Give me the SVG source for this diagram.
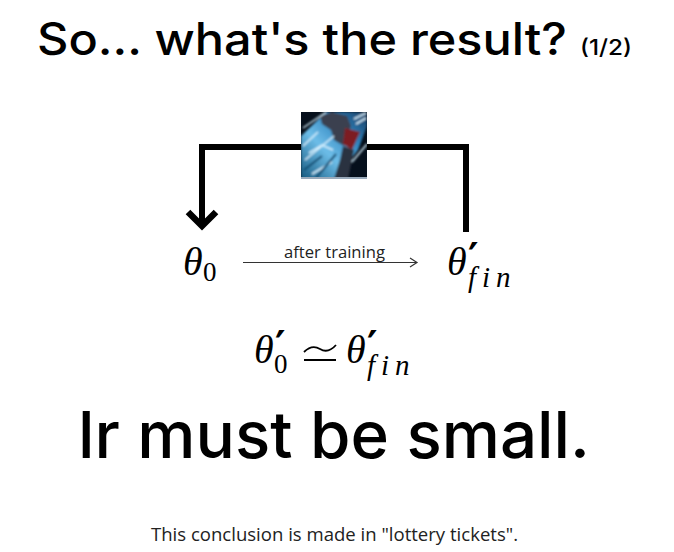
<svg xmlns="http://www.w3.org/2000/svg" width="674" height="552" viewBox="0 0 674 552">
<style>
.h{font-family:Inter,"Open Sans",sans-serif;fill:#000;font-weight:500}
.b{font-family:"Open Sans",sans-serif;fill:#222}
.m{font-family:"Liberation Serif",serif;font-style:italic;fill:#000}
.s{font-size:29px;letter-spacing:6px}
.t{font-size:40px}
.n{font-family:"Liberation Serif",serif;fill:#000;font-size:27px}
.p{font-family:"DejaVu Sans",sans-serif;fill:#000;font-size:40px;font-weight:700}
.c{fill:none;stroke:#000;stroke-width:6}
</style>
<defs>
<linearGradient id="g" x1="0" y1="1" x2="1" y2="0"><stop offset="0" stop-color="#14587e"/><stop offset=".4" stop-color="#6dbde8"/><stop offset=".7" stop-color="#2f83bd"/><stop offset="1" stop-color="#16385c"/></linearGradient>
<filter id="bl" x="0" y="0" width="1" height="1"><feGaussianBlur stdDeviation="1.100"/></filter>
<clipPath id="ic"><rect x="301" y="112" width="66" height="67"/></clipPath>
</defs>
<rect width="674" height="552" fill="#fff"/>
<g id="title"><text class="h" x="37" y="55" font-size="44.5" textLength="530" lengthAdjust="spacingAndGlyphs">So... what's the result?</text><text class="h" x="580" y="55" font-size="21.5" textLength="52" lengthAdjust="spacingAndGlyphs">(1/2)</text></g>
<g id="connectors">
<path class="c" d="M466 232V147H202V226"/>
<path d="M188 212L202 226L216 212" fill="none" stroke="#000" stroke-width="6.500"/>
<path d="M243 262.500H417M410 258L417 262.500L410 267" fill="none" stroke="#333" stroke-width="1.200"/>
</g>
<g id="icon">
<rect x="301" y="112" width="66" height="67" fill="#06101c"/>
<g clip-path="url(#ic)"><g filter="url(#bl)">
<polygon points="301,136 326,112 367,112 367,126 358,150 335,179 301,179" fill="url(#g)"/>
<polygon points="320,116 332,112 347,116 351,126 344,146 334,140 331,130 322,124" fill="#3b3f4f"/>
<polygon points="345,128 360,132 352,150 343,144" fill="#7d1d20"/>
<polygon points="343,146 354,150 348,179 334,179 340,160" fill="#2c3140"/>
<path d="M309 153L322 145L333 150M303 128L326 112M305 160L334 136M354 119L366 113M352 162L367 144M312 174L332 162M303 146L318 132M356 124L366 118" fill="none" stroke="#d8f2ff" stroke-width="1.500"/>
<path d="M304 170L322 156M316 178L336 154" fill="none" stroke="#0f4a70" stroke-width="2"/>
</g><rect x="301" y="177" width="66" height="2" fill="#9ab"/></g>
</g>
<g id="theta0"><text class="m t" x="183" y="275">θ</text><text class="n" x="203" y="281">0</text></g>
<g id="label"><text class="b" x="284" y="258" font-size="15.500" textLength="101" lengthAdjust="spacingAndGlyphs">after training</text></g>
<g id="thetafin"><text class="m t" x="447" y="275">θ</text><text class="p" x="468" y="272">′</text><text class="m s" x="468" y="287">fin</text></g>
<g id="equation"><text class="m t" x="254" y="363">θ</text><text class="p" x="275" y="360">′</text><text class="n" x="274" y="373">0</text><path d="M304 352Q312 344 320 349T336 345M304 360H336" fill="none" stroke="#000" stroke-width="1.800"/><text class="m t" x="346" y="363">θ</text><text class="p" x="367" y="360">′</text><text class="m s" x="367" y="375">fin</text></g>
<g id="conclusion"><text class="h" x="78" y="458" font-size="65" textLength="512" lengthAdjust="spacingAndGlyphs">lr must be small.</text></g>
<g id="footer"><text class="b" x="151" y="541" font-size="18" textLength="367" lengthAdjust="spacingAndGlyphs">This conclusion is made in "lottery tickets".</text></g>
</svg>
